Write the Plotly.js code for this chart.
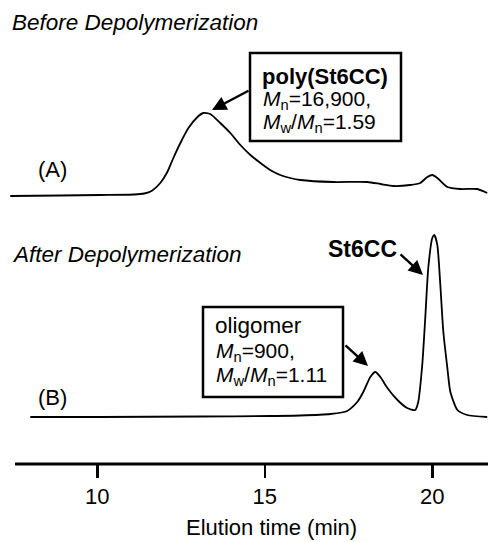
<!DOCTYPE html>
<html>
<head>
<meta charset="utf-8">
<script src="https://cdn.plot.ly/plotly-3.0.1.min.js"></script>
<style>html,body{margin:0;padding:0;background:#fff;}#chart{width:488px;height:542px;}</style>
</head>
<body>
<div id="chart"></div>
<script>
// Elution time (min) and detector signal (arbitrary units, relative to each trace's baseline)
const timeA = [7.40, 8.90, 10.09, 11.10, 11.40, 11.62, 11.88, 12.09, 12.27, 12.48, 12.72, 12.99, 13.16, 13.37, 13.67, 13.97, 14.27, 14.57, 14.87, 15.16, 15.46, 15.76, 16.06, 17.04, 18.06, 18.45, 18.84, 19.34, 19.64, 19.85, 20.00, 20.15, 20.45, 20.84, 21.34, 21.64];
const signalA = [0, 0.5, 1, 1.5, 2.5, 5, 13, 24, 38, 53, 68, 79, 83, 82, 73, 63, 51, 41, 33, 26, 21, 18, 16, 14, 14, 12, 10, 11, 13, 19, 21, 18, 9, 7, 7, 3];

const timeB = [8.0, 10.09, 13.07, 15.16, 16.06, 16.96, 17.46, 17.76, 17.94, 18.15, 18.30, 18.45, 18.66, 18.96, 19.25, 19.49, 19.58, 19.70, 19.79, 19.88, 20.00, 20.06, 20.15, 20.24, 20.33, 20.45, 20.54, 20.75, 21.04, 21.64];
const signalB = [0, 0, 0.5, 1, 1.5, 3, 6, 15, 25, 40, 45, 40, 29, 17, 9, 7, 15, 52, 99, 149, 179, 182, 172, 132, 85, 49, 25, 7, 2, 0];

const tickVals = [10, 15, 20];
const tickText = ['10', '15', '20'];

// vertical stacking offsets of the two chromatograms
const offsetA = 268;
const offsetB = 47;

const FONT = 'Liberation Sans, Arial, Helvetica, sans-serif';
const W = 488, H = 542, ML = 8, MB = 78;
const PW = W - ML, PH = H - MB;
const px = x => (x - ML) / PW;
const py = y => (PH - y) / PH;

const traces = [
  {x: timeA, y: signalA.map(v => v + offsetA), mode: 'lines', line: {color: '#000', width: 1.8, shape: 'spline', smoothing: 0.6}, hoverinfo: 'skip'},
  {x: timeB, y: signalB.map(v => v + offsetB), mode: 'lines', line: {color: '#000', width: 1.8, shape: 'spline', smoothing: 0.6}, hoverinfo: 'skip'}
];

function txt(t, x, y, size, extra) {
  return Object.assign({text: t, xref: 'paper', yref: 'paper', x: px(x), y: py(y), xanchor: 'left', yanchor: 'middle', showarrow: false, font: {family: FONT, size: size, color: '#000'}}, extra || {});
}
function arrow(tipX, tipY, fromX, fromY) {
  return {text: '', xref: 'paper', yref: 'paper', x: px(tipX), y: py(tipY), ax: fromX - tipX, ay: fromY - tipY, showarrow: true, arrowhead: 2, arrowsize: 1.2, arrowwidth: 2.4, arrowcolor: '#000'};
}

const annotations = [
  txt('<i>Before Depolymerization</i>', 10, 22, 22.5),
  txt('<i>After Depolymerization</i>', 10, 255, 22.5),
  txt('(A)', 36, 169, 22),
  txt('(B)', 36, 397, 22),
  txt('<b>poly(St6CC)</b>', 260, 76, 22),
  txt('<i>M</i><sub>n</sub>=16,900,', 261, 100, 21),
  txt('<i>M</i><sub>w</sub>/<i>M</i><sub>n</sub>=1.59', 261, 123, 21),
  txt('oligomer', 213, 325, 22.5),
  txt('<i>M</i><sub>n</sub>=900,', 214, 352, 21),
  txt('<i>M</i><sub>w</sub>/<i>M</i><sub>n</sub>=1.11', 214, 376, 21),
  txt('<b>St6CC</b>', 326, 249, 23),
  txt('Elution time (min)', 271, 527, 22, {xanchor: 'center'}),
  arrow(212, 110, 250, 90),
  arrow(368, 366, 344, 344),
  arrow(423, 275, 399, 253)
];

const shapes = [
  {type: 'rect', xref: 'paper', yref: 'paper', x0: px(250), x1: px(401), y0: py(53), y1: py(141), line: {color: '#000', width: 2.5}},
  {type: 'rect', xref: 'paper', yref: 'paper', x0: px(203), x1: px(343), y0: py(307), y1: py(397), line: {color: '#000', width: 2.5}},
  {type: 'line', xref: 'paper', yref: 'paper', x0: px(15), x1: 1, y0: 0, y1: 0, line: {color: '#000', width: 3}}
];

const layout = {
  width: W, height: H,
  margin: {l: ML, r: 0, t: 0, b: MB},
  paper_bgcolor: '#fff', plot_bgcolor: '#fff',
  showlegend: false,
  xaxis: {
    range: [7.334, 21.663], showgrid: false, zeroline: false, showline: false,
    tickmode: 'array', tickvals: tickVals, ticktext: tickText,
    ticks: 'outside', ticklen: 13, tickwidth: 2.5, tickcolor: '#000',
    tickfont: {family: FONT, size: 22, color: '#000'}
  },
  yaxis: {range: [0, PH], visible: false, showgrid: false, zeroline: false},
  shapes: shapes,
  annotations: annotations
};

Plotly.newPlot('chart', traces, layout, {displayModeBar: false, staticPlot: true});
</script>
</body>
</html>
